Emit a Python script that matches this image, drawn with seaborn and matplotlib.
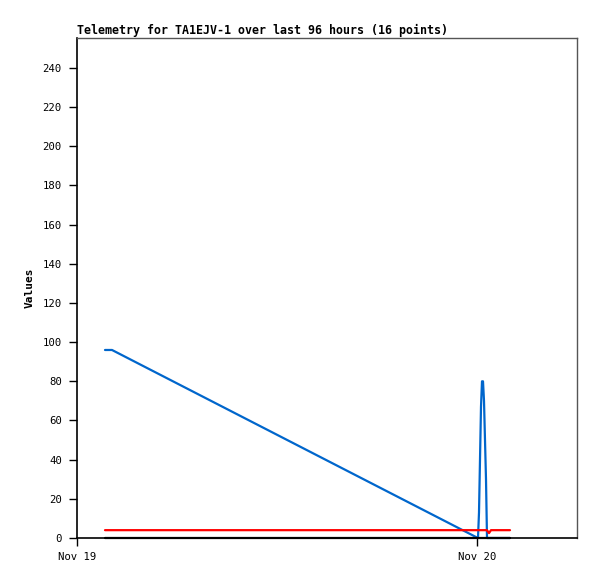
import pandas as pd
import numpy as np
import matplotlib
matplotlib.use('Agg')
import matplotlib.pyplot as plt
import matplotlib.dates as mdates
import seaborn as sns

# hours after Nov 19 00:00
hours = [1.68, 2.10, 23.94, 24.06, 24.12, 24.18, 24.24, 24.30,
         24.36, 24.42, 24.48, 24.54, 24.60, 24.72, 24.84, 25.98]
blue_vals = [96, 96, 0.5, 0, 13, 40, 67, 80, 80, 70, 50, 30, 0, 0, 0, 0]
red_vals = [4, 4, 4, 4, 4, 4, 4, 4, 4, 4, 4, 4, 4, 2.5, 4, 4]
black_vals = [0] * 16

start = pd.Timestamp('2023-11-19 00:00')
times = [start + pd.Timedelta(hours=h) for h in hours]
df = pd.DataFrame({'time': times, 'blue': blue_vals, 'red': red_vals, 'black': black_vals})

sns.set_style('white')
plt.rcParams['font.family'] = ['DejaVu Sans Mono', 'DejaVu Sans']
plt.rcParams['text.color'] = 'black'
plt.rcParams['axes.labelcolor'] = 'black'

fig = plt.figure(figsize=(5.97, 5.79), dpi=100)
ax = fig.add_axes([77/597, 1-538/579, 500/597, 500/579])

sns.lineplot(data=df, x='time', y='blue', color='#0066cc', linewidth=1.6, ax=ax)
sns.lineplot(data=df, x='time', y='red', color='#ff0000', linewidth=1.6, ax=ax)
sns.lineplot(data=df, x='time', y='black', color='#000000', linewidth=1.6, ax=ax)
for ln in ax.lines:
    ln.set_clip_on(False)

ax.set_xlim(start, start + pd.Timedelta(hours=30))
ax.set_ylim(0, 255.3)
ax.set_yticks(np.arange(0, 241, 20))
ax.set_xticks([start, start + pd.Timedelta(days=1)])
ax.xaxis.set_major_formatter(mdates.DateFormatter('%b %d'))
ax.tick_params(axis='both', direction='out', length=6, width=1, colors='black',
               labelsize=7.7, bottom=True, left=True)
ax.tick_params(axis='x', pad=4)
ax.tick_params(axis='y', pad=5)

ax.set_xlabel('')
ax.set_ylabel('Values', fontsize=8, fontweight='bold', color='black', labelpad=6)
ax.set_title('Telemetry for TA1EJV-1 over last 96 hours (16 points)',
             loc='left', fontsize=8.4, fontweight='bold', pad=3, color='black')

for side in ['left', 'bottom']:
    ax.spines[side].set_color('black')
    ax.spines[side].set_linewidth(1.2)
for side in ['top', 'right']:
    ax.spines[side].set_color('#555555')
    ax.spines[side].set_linewidth(1)

fig.savefig('out.png', dpi=100)
